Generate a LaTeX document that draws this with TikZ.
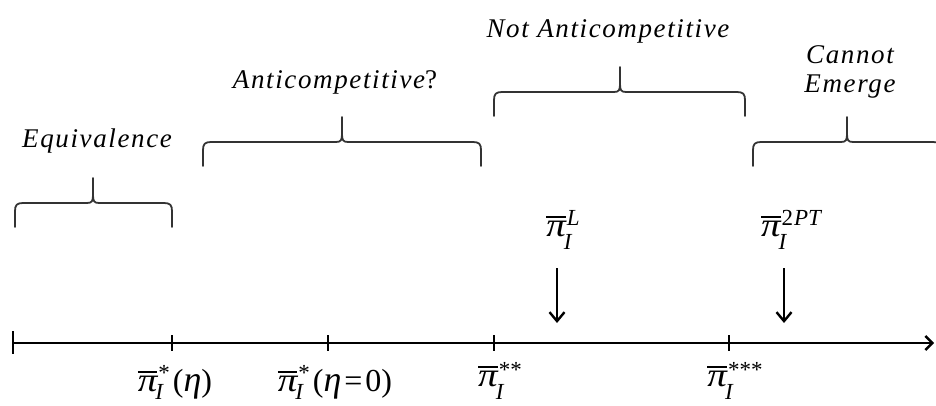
\documentclass[tikz,border=0pt]{standalone}
\usepackage{fontspec}
\usepackage{graphicx}
\setmainfont{Liberation Serif}
\newfontfamily\labfont[LetterSpace=6]{Liberation Serif}
\usetikzlibrary{arrows.meta}
\newcommand\pib{\setbox0\hbox{\fontsize{32}{32}\selectfont\scalebox{1.22}[1.05]{\itshape π}}\rlap{\raisebox{18pt}{\rule{\wd0}{1.8pt}}}\box0}
% #1 raise of sup, #2 lowering of sub, #3 sup, #4 sub
\newcommand\mysupsub[4]{\begingroup\fontsize{23}{23}\selectfont\setbox1\hbox{\kern1pt\raisebox{#1}{#3}}\setbox2\hbox{\kern-2pt\raisebox{-#2}{\itshape #4}}\ifdim\wd1>\wd2 \rlap{\box2}\box1\else\rlap{\box1}\box2\fi\endgroup}
\newcommand\myeta{{\fontsize{36}{36}\selectfont\itshape η}}
\newcommand\myparen[1]{{\fontsize{32}{32}\selectfont#1}}
\newcommand\mybrace[4]{%
 \draw[bracestyle] (#1,{#3+24}) -- (#1,{#3+8}) .. controls (#1,{#3+2}) and ({#1+2},#3) .. ({#1+8},#3) -- ({#4-6},#3) .. controls ({#4-1},#3) and (#4,{#3-2}) .. (#4,{#3-8}) -- (#4,{#3-25});
 \draw[bracestyle] (#4,{#3-8}) .. controls (#4,{#3-2}) and ({#4+1},#3) .. ({#4+6},#3) -- ({#2-8},#3) .. controls ({#2-2},#3) and (#2,{#3+2}) .. (#2,{#3+8}) -- (#2,{#3+24});
}
\tikzset{
 bracestyle/.style={draw=black!80, line width=1.8pt, line cap=round},
 lab/.style={font=\labfont\itshape\fontsize{27}{29}\selectfont, inner sep=0pt},
 mlab/.style={font=\fontsize{30}{32}\selectfont, inner sep=0pt, anchor=base},
 axisline/.style={line width=2.4pt, black},
 tickmark/.style={line width=2.4pt, black},
 downarrow/.style={line width=2.4pt, black, -{Straight Barb[length=9pt,width=15pt,line width=2.4pt]}},
}
\begin{document}
\begin{tikzpicture}[x=1pt,y=-1pt]
\useasboundingbox (0,0) rectangle (936,405);
\clip (0,0) rectangle (936,405);
% braces
\mybrace{15}{172}{203}{93}
\mybrace{203}{481}{142}{342}
\mybrace{494}{745}{92}{620}
\mybrace{753}{941}{142}{847}
% brace labels
\node[lab, anchor=base] (eq) at (97,147) {Equivalence};
\node[lab, anchor=base] (ac) at (335,88) {Anticompetitive{\upshape ?}};
\node[lab, anchor=base] (nac) at (608,37) {Not Anticompetitive};
\node[lab, anchor=base] (ce1) at (850,63) {Cannot};
\node[lab, anchor=base] (ce2) at (850,92) {Emerge};
% axis
\coordinate (o) at (13,343);
\coordinate (e) at (934,343);
\draw[axisline, -{Straight Barb[length=7pt,width=14pt,line width=2.4pt]}] (o) -- (e);
\draw[tickmark] (13,331) -- (13,354);
\foreach \x/\n in {172/t1, 328/t2, 494/t3, 729/t4}{
 \coordinate (\n) at (\x,343);
 \draw[tickmark] ([yshift=8pt]\n) -- ([yshift=-8pt]\n);
}
% tick labels
\node[mlab] (l1) at (175,391) {\pib\mysupsub{11pt}{8pt}{*}{I}\kern3pt\myparen{(}\myeta\myparen{)}};
\node[mlab] (l2) at (335,391) {\pib\mysupsub{11pt}{8pt}{*}{I}\kern3pt\myparen{(}\myeta\kern3pt\myparen{=\kern3pt0)}};
\node[mlab] (l3) at (500,386) {\pib\mysupsub{9pt}{13pt}{**}{I}};
\node[mlab] (l4) at (735,386) {\pib\mysupsub{9pt}{13pt}{***}{I}};
% upper labels and arrows
\node[mlab] (pL) at (563,236) {\pib\mysupsub{11pt}{13pt}{\itshape L}{I}};
\node[mlab] (p2) at (791,236) {\pib\mysupsub{11pt}{13pt}{2\kern1pt\itshape PT}{I}};
\coordinate (aL1) at (557,268);
\coordinate (aL2) at (557,323);
\coordinate (a21) at (784,268);
\coordinate (a22) at (784,323);
\draw[downarrow] (aL1) -- (aL2);
\draw[downarrow] (a21) -- (a22);
\end{tikzpicture}
\end{document}
